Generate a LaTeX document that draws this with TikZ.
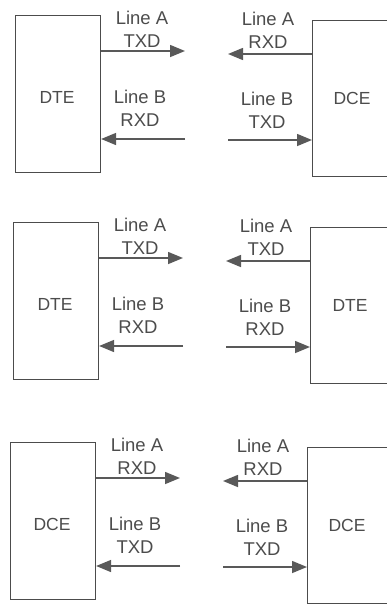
\documentclass[tikz,border=0pt]{standalone}
\usepackage{fontspec}
\setmainfont{Liberation Sans}
\usetikzlibrary{positioning, arrows.meta}

\begin{document}
\begin{tikzpicture}[
        x=1pt,
        y=-1pt,
        station/.style={
            draw=black!70,
            line width=1.1pt,
            minimum width=85pt,
            minimum height=157pt,
            inner sep=0pt,
            anchor=north west,
            text=black!70,
            font=\fontsize{17.5}{20}\selectfont
        },
        signal/.style={
            align=center,
            inner sep=0pt,
            text=black!70,
            font=\fontsize{18.5}{23}\selectfont
        },
        wire/.style={
            draw=black!65,
            line width=1.5pt,
            -{Triangle[length=15pt,width=12pt]}
        }
    ]

    % --------------------------------------------------------
    % Page frame
    % --------------------------------------------------------

    \useasboundingbox (0,0) rectangle (387,605);
    \clip (0,0) rectangle (387,605);

    % --------------------------------------------------------
    % Three link panels
    % --------------------------------------------------------

    \foreach \i/\ox/\oy/\lname/\rname/\lsiga/\rsiga/\lsigb/\rsigb in {
        1/0/0/DTE/DCE/TXD/RXD/RXD/TXD,
        2/-2/207/DTE/DTE/TXD/TXD/RXD/RXD,
        3/-5/427/DCE/DCE/RXD/RXD/TXD/TXD
    } {

        \begin{scope}[
            shift={(\ox,\oy)}
        ]

            % boxes
            \node[
                station
            ]
            (left\i)
            at (15,15) {};

            \node
            at (57,97)
            {\fontsize{17.5}{20}\selectfont\color{black!70}\lname};

            \node[
                station,
                minimum height=156pt
            ]
            (right\i)
            at (312,20) {};

            \node
            at (352,98)
            {\fontsize{17.5}{20}\selectfont\color{black!70}\rname};

            % free ends of the wires
            \coordinate (tipA\i) at (185,51);
            \coordinate (tipAr\i) at (228,54);
            \coordinate (tailB\i) at (185,139);
            \coordinate (tailBr\i) at (228,140);

            % wires
            \draw[
                wire
            ]
            (left\i.east |- tipA\i)
            -- (tipA\i);

            \draw[
                wire
            ]
            (right\i.west |- tipAr\i)
            -- (tipAr\i);

            \draw[
                wire
            ]
            (tailB\i)
            -- (tailB\i -| left\i.east);

            \draw[
                wire
            ]
            (tailBr\i)
            -- (tailBr\i -| right\i.west);

            % labels
            \node[
                signal
            ]
            (labA\i)
            at (142,29.5)
            {Line A\\\lsiga};

            \node[
                signal
            ]
            (labAr\i)
            at (268,30)
            {Line A\\\rsiga};

            \node[
                signal
            ]
            (labB\i)
            at (140,108)
            {Line B\\\lsigb};

            \node[
                signal
            ]
            (labBr\i)
            at (267,110)
            {Line B\\\rsigb};

        \end{scope}
    }

\end{tikzpicture}
\end{document}
